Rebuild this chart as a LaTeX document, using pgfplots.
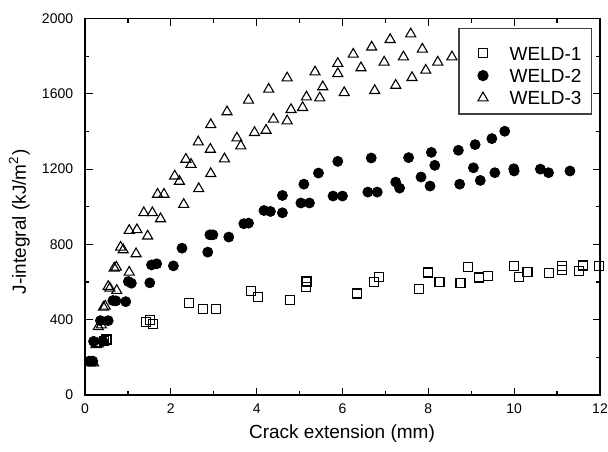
\documentclass[border=0pt]{standalone}
\usepackage{fontspec}
\setmainfont{Liberation Sans}
\usepackage{pgfplots}
\pgfplotsset{compat=1.18}
\begin{document}
\begin{tikzpicture}
\begin{axis}[
  name=ax,
  scale only axis,
  width=257.5pt, height=188.25pt,
  xmin=0, xmax=12, ymin=0, ymax=2000,
  xtick={0,2,...,12}, ytick={0,400,...,2000},
  minor x tick num=1, minor y tick num=1,
  tick align=inside,
  major tick length=3.75pt, minor tick length=2pt,
  every tick/.style={black, line width=0.6pt},
  axis line style={black, line width=0.8pt},
  /pgf/number format/assume math mode=true,
  /pgf/number format/1000 sep={},
  ticklabel style={font=\fontsize{7}{8.4}\selectfont},
  xticklabel style={yshift=-0.9pt},
  yticklabel style={xshift=-2.4pt},
  xlabel={Crack extension (mm)},
  ylabel={J-integral (kJ/m\textsuperscript{2})},
  label style={font=\fontsize{9.5}{11}\selectfont},
  xlabel style={at={(axis description cs:0.499,-0.1036)}, anchor=center},
  ylabel style={at={(axis description cs:-0.1274,0.46)}, anchor=center},
  legend style={at={(1,1)}, anchor=north east, xshift=-4pt, yshift=-4.75pt,
    draw=black!75, line width=0.6pt, fill=white,
    font=\fontsize{9.5}{11}\selectfont,
    inner xsep=5pt, inner ysep=4.6pt, column sep=6.3pt, row sep=0pt,
    nodes={inner xsep=0pt, inner ysep=0pt, text height=11.15pt, text depth=0pt},
    cells={anchor=base west}},
  legend image code/.code={
    \path[draw=none, fill=none] (0pt,0pt) rectangle (14pt,3.4pt);
    \draw[only marks] plot coordinates {(7pt,3.4pt)};
  },
]
\addplot[only marks, mark=square, mark size=2.25pt, black, line width=0.55pt] table {
0.45 285
0.50 295
1.42 390
1.51 399
1.58 378
2.42 491
2.74 457
3.05 457
3.86 551
4.04 520
4.77 507
5.14 576
5.16 603
6.34 539
6.73 599
6.85 626
7.78 562
8.00 651
8.26 599
8.75 594
8.93 679
9.17 624
9.40 631
9.99 686
10.11 629
10.31 652
10.81 649
11.11 665
11.11 684
11.50 661
11.60 688
11.98 684
};
\addlegendentry{WELD-1}
\addplot[only marks, mark=*, mark size=2.5pt, black, mark options={fill=black}] table {
0.10 180
0.18 180
0.20 285
0.42 285
0.36 395
0.54 395
0.65 502
0.72 500
0.95 496
1.01 603
1.08 594
1.51 596
1.55 691
1.67 697
2.06 686
2.26 780
2.86 759
2.91 851
2.98 851
3.35 839
3.70 910
3.81 913
4.17 980
4.32 975
4.60 968
4.60 1060
5.03 1020
5.23 1020
5.10 1120
5.44 1179
5.78 1057
6.00 1057
5.89 1241
6.59 1078
6.81 1078
6.67 1259
7.24 1131
7.33 1099
7.54 1261
7.83 1158
8.04 1110
8.07 1289
8.15 1220
8.70 1300
8.73 1120
9.05 1207
9.09 1330
9.21 1140
9.48 1362
9.55 1181
9.78 1401
9.99 1202
10.00 1190
10.61 1200
10.80 1181
11.30 1190
};
\addlegendentry{WELD-2}
\addplot[only marks, mark=triangle, mark size=2.9pt, black, line width=0.55pt] table {
0.13 170
0.20 170
0.26 268
0.30 272
0.31 363
0.38 372
0.43 466
0.47 472
0.54 576
0.58 567
0.68 674
0.73 679
0.74 555
0.83 785
0.89 771
1.03 874
1.21 878
1.03 652
1.19 750
1.37 968
1.57 968
1.46 844
1.76 936
1.69 1066
1.84 1066
2.09 1163
2.20 1135
2.30 1012
2.35 1252
2.47 1225
2.64 1344
2.92 1305
2.65 1096
2.93 1176
2.93 1436
3.25 1254
3.31 1504
3.54 1365
3.63 1323
3.81 1566
3.95 1394
4.22 1406
4.28 1624
4.39 1465
4.71 1456
4.71 1684
4.80 1516
5.07 1527
5.16 1583
5.36 1716
5.47 1578
5.54 1637
5.89 1761
5.89 1707
6.04 1606
6.25 1810
6.43 1738
6.68 1848
6.75 1617
6.97 1768
7.11 1888
7.24 1645
7.42 1796
7.59 1918
7.62 1686
7.86 1837
7.94 1725
8.22 1768
8.55 1796
};
\addlegendentry{WELD-3}
\end{axis}
\pgfresetboundingbox
\path[use as bounding box] (ax.south west) ++(-42.5pt,-28pt) rectangle ([shift={(4pt,9.25pt)}]ax.north east);
\end{tikzpicture}
\end{document}
